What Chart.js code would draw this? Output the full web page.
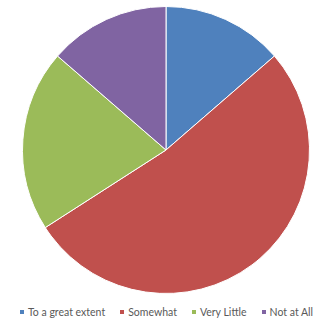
<!DOCTYPE html>
<html>
<head>
<meta charset="utf-8">
<script src="https://cdn.jsdelivr.net/npm/chart.js@4/dist/chart.umd.min.js"></script>
<style>
  html, body { margin: 0; padding: 0; background: #fff; }
  #wrap { width: 331px; height: 323px; position: relative; }
  #legend-container { position: absolute; left: 1px; top: 303px; width: 331px; }
</style>
</head>
<body>
<div id="wrap">
  <canvas id="pie" width="331" height="300"></canvas>
  <div id="legend-container"></div>
</div>
<script>
// answers to the question (counts)
const categories = ['To a great extent', 'Somewhat', 'Very Little', 'Not at All'];
const counts = [6, 23, 9, 6];
const colours = ['#4F81BD', '#C0504D', '#9BBB59', '#8064A2'];

// legend drawn as html so the spacing can follow the original
const htmlLegendPlugin = {
  id: 'htmlLegend',
  afterUpdate(chart, args, options) {
    const box = document.getElementById(options.containerID);
    box.innerHTML = '';
    const ul = document.createElement('ul');
    ul.style.display = 'flex';
    ul.style.justifyContent = 'center';
    ul.style.margin = 0;
    ul.style.padding = 0;
    ul.style.listStyle = 'none';
    box.appendChild(ul);

    const items = chart.options.plugins.legend.labels.generateLabels(chart);
    items.forEach((item, index) => {
      const li = document.createElement('li');
      li.style.display = 'flex';
      li.style.alignItems = 'center';
      li.style.marginLeft = index === 0 ? '0px' : '15px';

      const swatch = document.createElement('span');
      swatch.style.display = 'inline-block';
      swatch.style.width = '4px';
      swatch.style.height = '4px';
      swatch.style.background = item.fillStyle;
      swatch.style.marginRight = '4px';

      const txt = document.createElement('span');
      txt.textContent = item.text;
      txt.style.font = '10.5px Lato';
      txt.style.color = '#595959';
      txt.style.lineHeight = '18px';

      li.appendChild(swatch);
      li.appendChild(txt);
      ul.appendChild(li);
    });
  }
};

const canvas = document.getElementById('pie');
new Chart(canvas, {
  type: 'pie',
  data: {
    labels: categories,
    datasets: [{
      data: counts,
      backgroundColor: colours,
      borderColor: '#ffffff',
      borderWidth: 1
    }]
  },
  options: {
    responsive: false,
    animation: false,
    layout: { padding: { top: 6, bottom: 6, left: 1, right: 0 } },
    plugins: {
      htmlLegend: { containerID: 'legend-container' },
      legend: { display: false },
      tooltip: { enabled: false }
    }
  },
  plugins: [htmlLegendPlugin]
});
</script>
</body>
</html>
